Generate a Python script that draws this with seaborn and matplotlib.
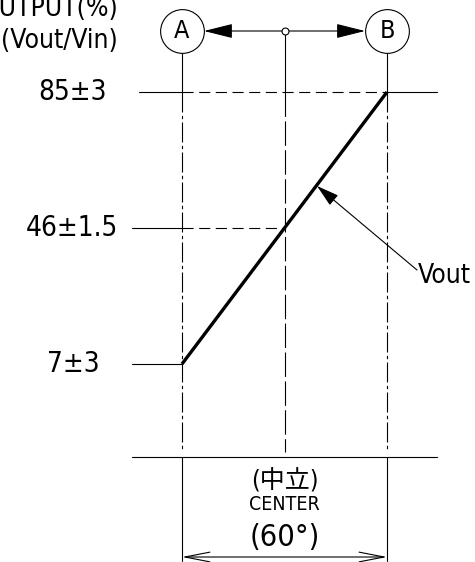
import matplotlib
matplotlib.use("Agg")
import matplotlib.pyplot as plt
import seaborn as sns
import pandas as pd
from matplotlib import font_manager

# ---- data ----
positions = ["A", "CENTER", "B"]
angles = [-30, 0, 30]                 # lever angle (deg), total travel 60°
output_pct = [7, 46, 85]              # output % (Vout/Vin)
level_labels = ["7±3", "46±1.5", "85±3"]
y_title = ["OUTPUT(%)", "(Vout/Vin)"]
center_labels = ["(中立)", "CENTER", "(60°)"]
curve_label = "Vout"

# ---- fonts ----
sns.set_theme(style="white")
fl = font_manager.fontManager.ttflist
names = {f.name for f in fl}
STRETCH = "normal"
if "Liberation Sans Narrow" in names:
    base = "Liberation Sans Narrow"
elif any(f.name == "DejaVu Sans" and str(f.stretch) in ("condensed", "semi-condensed", "500", "400") and str(f.stretch) != "normal" for f in fl):
    base = "DejaVu Sans"
    STRETCH = "condensed"
else:
    base = "Liberation Sans"
FAM = [base, "Noto Sans CJK JP", "DejaVu Sans"]
plt.rcParams["font.family"] = FAM
plt.rcParams["font.stretch"] = STRETCH

W, H = 475, 562
fig = plt.figure(figsize=(W / 100, H / 100), dpi=100)
ax = fig.add_axes([0, 0, 1, 1])

# pixel -> data helpers (for decorations only)
def X(px):
    return -30 + (px - 182) * 60 / 205

def Y(py):
    return 7 + (364 - py) * 78 / 272

ax.set_xlim(X(0), X(W))
ax.set_ylim(Y(H), Y(0))
ax.set_axis_off()

K = "black"
thin = 0.8
DASH_H = (0, (10, 5))
DASH_C = (0, (22, 4))
DASH_V = (0, (18, 3, 3, 3))

df = pd.DataFrame({"pos": positions, "angle": angles, "pct": output_pct})
top = max(output_pct)

# Vout characteristic line
sns.lineplot(data=df, x="angle", y="pct", ax=ax, color=K, lw=2.4,
             solid_capstyle="butt", legend=False)

# horizontal level lines
for a, p in zip(angles, output_pct):
    x0 = X(139) if p == top else X(132)
    ax.plot([x0, angles[0]], [p, p], color=K, lw=thin)
    if a > angles[0]:
        ax.plot([angles[0], a], [p, p], color=K, lw=thin, ls=DASH_H)
    if a == angles[-1]:
        ax.plot([a, X(437)], [p, p], color=K, lw=thin)

# baseline
ax.plot([X(132), X(437)], [Y(457), Y(457)], color=K, lw=thin)

# vertical lines
for a in (angles[0], angles[-1]):
    ax.plot([a, a], [Y(53), top], color=K, lw=thin)
    ax.plot([a, a], [top, Y(452)], color=K, lw=thin, ls=DASH_V)
    ax.plot([a, a], [Y(457), Y(561)], color=K, lw=thin)
ax.plot([angles[1]] * 2, [Y(31), top], color=K, lw=thin)
ax.plot([angles[1]] * 2, [top, Y(452)], color=K, lw=thin, ls=DASH_C)

# top arrows and circles
yc = Y(31)
for a, side in ((angles[0], 204), (angles[-1], 365)):
    ax.annotate("", xy=(X(side), yc), xytext=(angles[1], yc),
                arrowprops=dict(arrowstyle="-|>,head_length=18,head_width=4.5",
                                mutation_scale=1, lw=thin, color=K,
                                shrinkA=0, shrinkB=0))
ax.plot([angles[1]], [yc], marker="o", ms=5, mfc="white", mec=K, mew=thin, zorder=5)
for a, name in ((angles[0], positions[0]), (angles[-1], positions[-1])):
    ax.plot([a], [yc], marker="o", ms=31.5, mfc="white", mec=K, mew=thin, zorder=5)
    ax.text(a, yc, name, ha="center", va="center", fontsize=18, color=K, zorder=6)

# leader to Vout
ax.annotate("", xy=(X(317), Y(186)), xytext=(X(417), Y(270)),
            arrowprops=dict(arrowstyle="-|>,head_length=14,head_width=4",
                            mutation_scale=1, lw=thin, color=K,
                            shrinkA=0, shrinkB=0))
ax.text(X(418), Y(276), curve_label, ha="left", va="center", fontsize=19, color=K)

# level labels
lab_right = {7: 100, 46: 118, 85: 107}
for p, lab in zip(output_pct, level_labels):
    ax.text(X(lab_right[p]), p, lab, ha="right", va="center", fontsize=20, color=K)

# y title
ax.text(X(118), Y(9), y_title[0], ha="right", va="center", fontsize=19, color=K)
ax.text(X(118), Y(41), y_title[1], ha="right", va="center", fontsize=19, color=K)

# bottom dimension
ax.annotate("", xy=(angles[0], Y(557)), xytext=(angles[-1], Y(557)),
            arrowprops=dict(arrowstyle="<->,head_length=18,head_width=3.5",
                            mutation_scale=1, lw=thin, color=K,
                            shrinkA=0, shrinkB=0))
ax.text(angles[1], Y(481), center_labels[0], ha="center", va="center", fontsize=18, color=K)
ax.text(angles[1], Y(505), center_labels[1], ha="center", va="center", fontsize=14, color=K)
ax.text(angles[1], Y(538), center_labels[2], ha="center", va="center", fontsize=22, color=K)

fig.savefig("out.png", dpi=100, facecolor="white")
